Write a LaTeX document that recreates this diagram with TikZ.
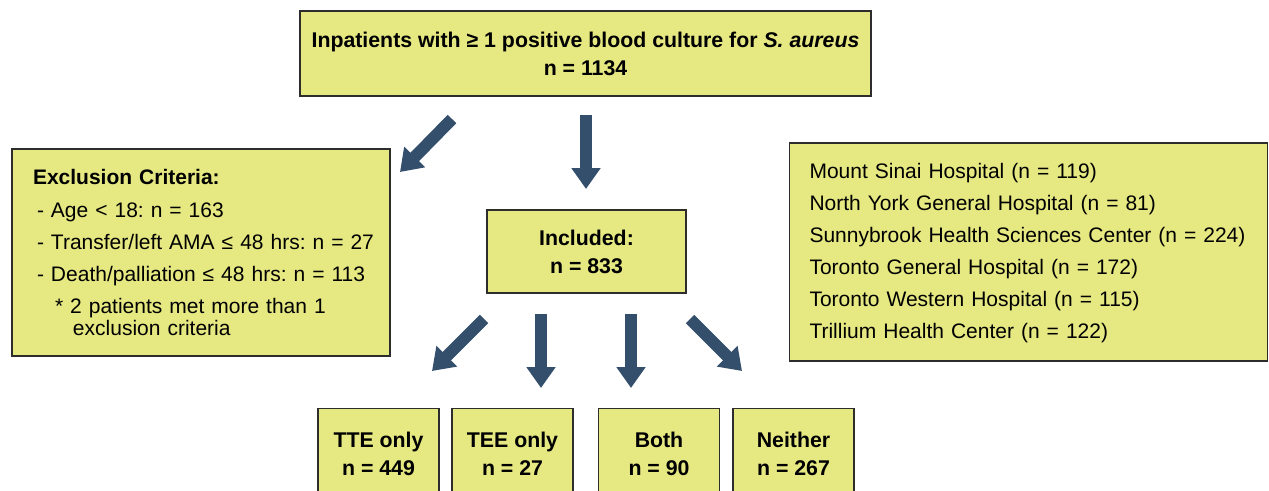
\documentclass[tikz,border=0pt]{standalone}
\usepackage{fontspec}
\setmainfont{Liberation Sans}
\usetikzlibrary{positioning,arrows.meta}
\definecolor{flowYellow}{RGB}{230,232,130}
\definecolor{flowBlue}{RGB}{52,79,108}
\definecolor{flowEdge}{RGB}{45,45,45}
\frenchspacing

\begin{document}
\begin{tikzpicture}[x=1pt,y=-1pt,
      box/.style={draw=flowEdge,fill=flowYellow,line width=1.2pt,align=center,font=\fontsize{21.3}{28}\selectfont\bfseries},
      listbox/.style={draw=flowEdge,fill=flowYellow,line width=1.2pt,align=left,inner ysep=0pt},
      arr/.style={-{Triangle[width=28pt,length=21pt]},flowBlue,line width=12pt}]
    \useasboundingbox (0,0) rectangle (1269,490);
    \clip (0,0) rectangle (1269,490);
    \node[box,minimum width=571pt,minimum height=85pt] (top) at (585.5,53.5) {Inpatients with ≥ 1 positive blood culture for \textit{S. aureus}\\n = 1134};
    \node[listbox,text width=350pt,inner xsep=14pt,minimum height=207pt,font=\fontsize{21}{24}\selectfont] (excl) at (201,252.5) {%
      \hspace*{7pt}\textbf{Exclusion Criteria:}\\[9pt]
      \hspace*{11pt}- Age < 18: n = 163\\[8pt]
      \hspace*{11pt}- Transfer/left AMA ≤ 48 hrs: n = 27\\[8pt]
      \hspace*{11pt}- Death/palliation ≤ 48 hrs: n = 113\\[8pt]
      \hspace*{29pt}* 2 patients met more than 1\\[-2pt]
      \hspace*{47pt}exclusion criteria};
    \node[box,minimum width=199pt,minimum height=83pt] (incl) at (586.5,251.5) {Included:\\n = 833};
    \node[listbox,text width=446pt,inner xsep=16pt,minimum height=218pt,font=\fontsize{21}{32}\selectfont] (hosp) at (1028.5,252) {%
      \hspace*{4pt}\rule{0pt}{18pt}Mount Sinai Hospital (n = 119)\\
      \hspace*{4pt}North York General Hospital (n = 81)\\
      \hspace*{4pt}Sunnybrook Health Sciences Center (n = 224)\\
      \hspace*{4pt}Toronto General Hospital (n = 172)\\
      \hspace*{4pt}Toronto Western Hospital (n = 115)\\
      \hspace*{4pt}Trillium Health Center (n = 122)};
    \node[box,anchor=north,minimum width=121pt,inner ysep=23pt] (tte) at (378.5,408) {TTE only\\n = 449};
    \node[box,anchor=north,minimum width=121pt,inner ysep=23pt] (tee) at (512.5,408) {TEE only\\n = 27};
    \node[box,anchor=north,minimum width=121pt,inner ysep=23pt] (both) at (659,408) {Both\\n = 90};
    \node[box,anchor=north,minimum width=121pt,inner ysep=23pt] (nei) at (793.5,408) {Neither\\n = 267};
    \coordinate (t1) at (452,119); \coordinate (h1) at (400,172);
    \coordinate (t2) at (586,115); \coordinate (h2) at (586,189);
    \coordinate (t3) at (484,319); \coordinate (h3) at (432,371);
    \coordinate (t4) at (541,314); \coordinate (h4) at (541,388);
    \coordinate (t5) at (631,314); \coordinate (h5) at (631,388);
    \coordinate (t6) at (690,319); \coordinate (h6) at (742,371);
    \foreach \i in {1,...,6} \draw[arr] (t\i) -- (h\i);
  \end{tikzpicture}
\end{document}
